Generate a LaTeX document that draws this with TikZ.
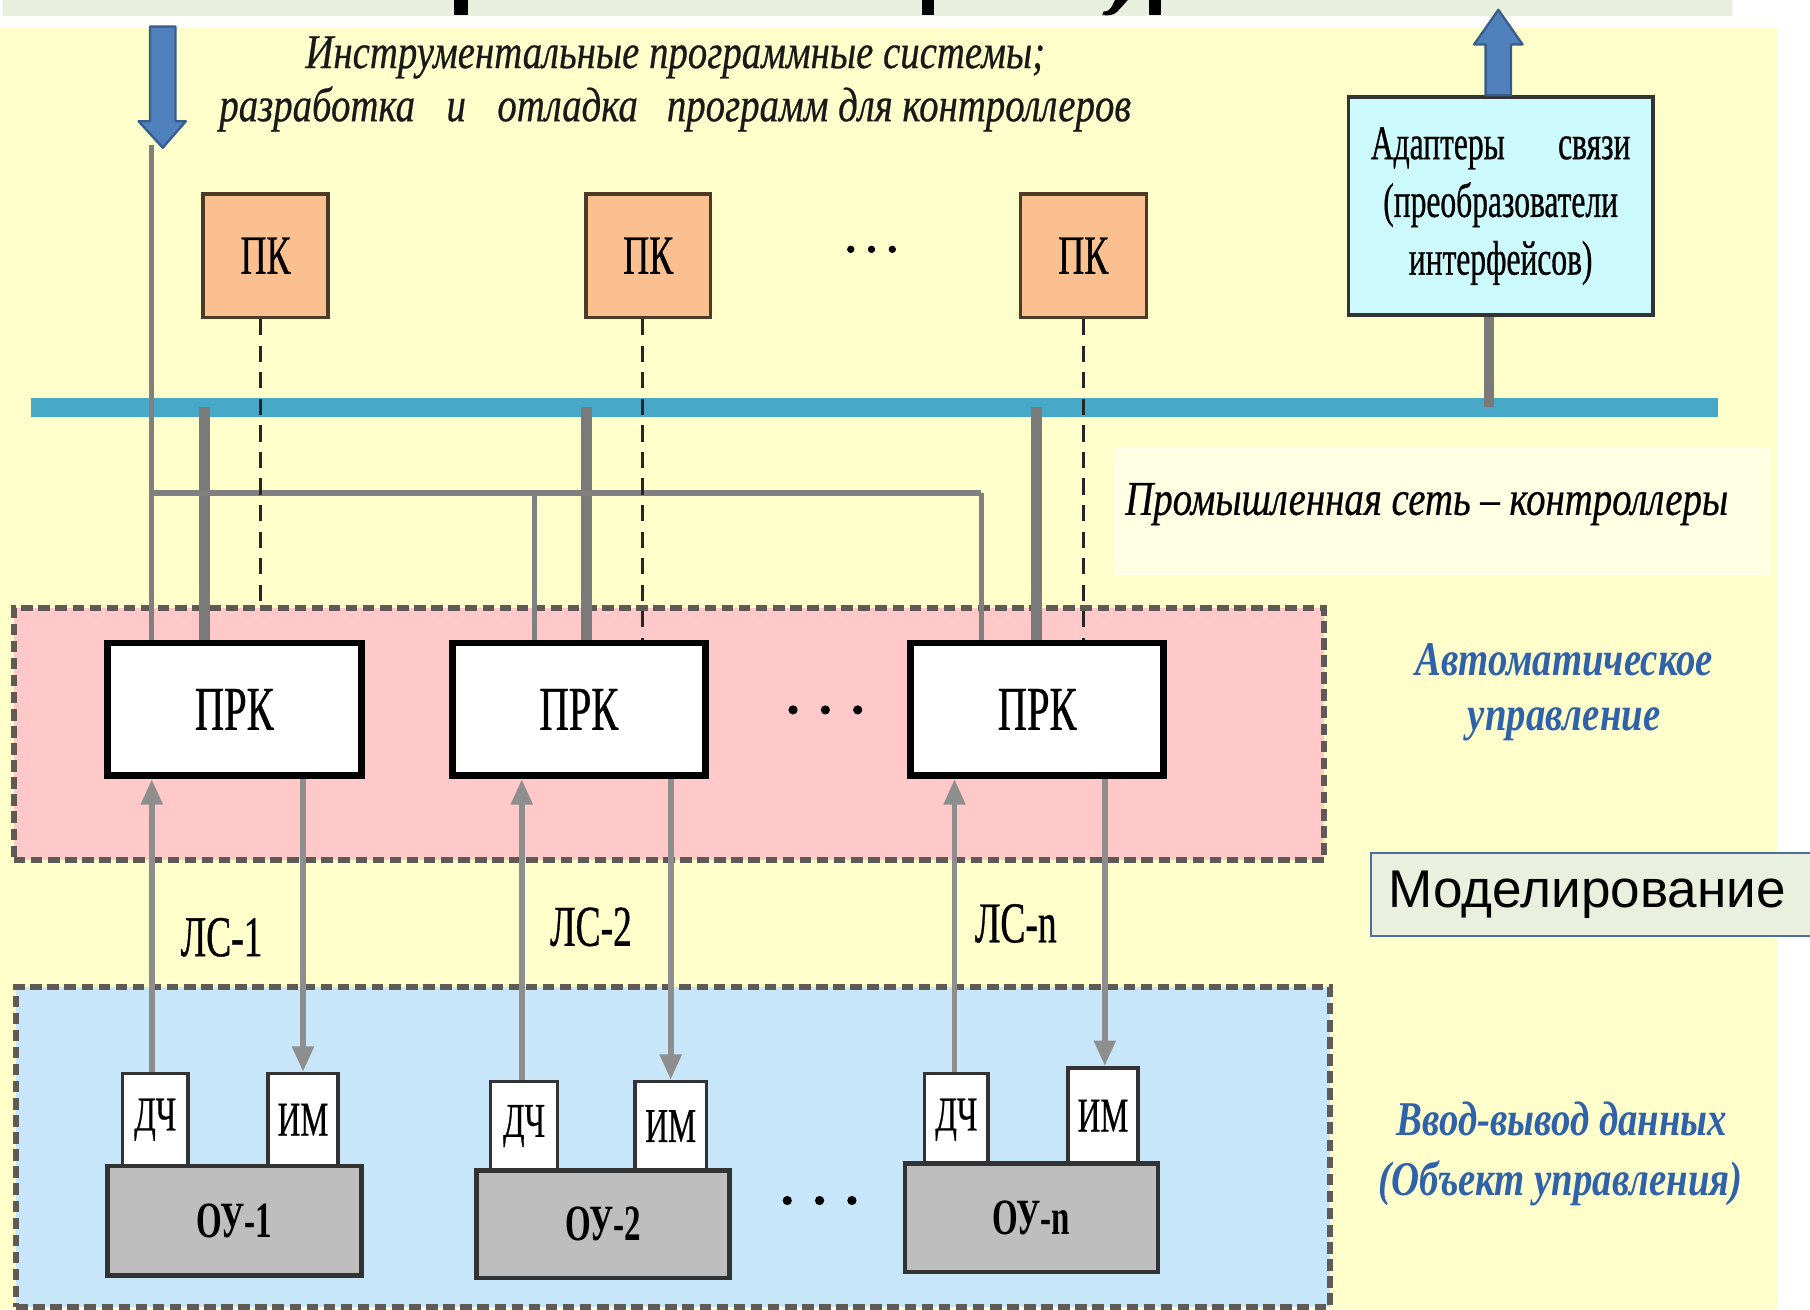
\documentclass[tikz,border=0pt]{standalone}
\usepackage{fontspec}
\setmainfont{Liberation Serif}
\newfontfamily\cf[FakeStretch=0.65,FakeBold=0.6]{Liberation Serif}
\newfontfamily\cfb[FakeStretch=0.65]{Liberation Serif}
\newfontfamily\itf[FakeStretch=0.8,FakeBold=0.5]{Liberation Serif}
\newfontfamily\bitf[FakeStretch=0.8]{Liberation Serif}
\newfontfamily\arf{Liberation Sans}
\usetikzlibrary{arrows.meta}
\definecolor{bgyellow}{HTML}{FFFFCC}
\definecolor{bandc}{HTML}{E9EFDD}
\definecolor{pinkc}{HTML}{FFC9C9}
\definecolor{bluec}{HTML}{C8E6FA}
\definecolor{regline}{HTML}{5F5A55}
\definecolor{pkfill}{HTML}{FAC08F}
\definecolor{pkline}{HTML}{4D3B2A}
\definecolor{adfill}{HTML}{CCFAFC}
\definecolor{busc}{HTML}{48A8C8}
\definecolor{dropc}{HTML}{7A7A7A}
\definecolor{netc}{HTML}{808080}
\definecolor{arrc}{HTML}{8E8E8E}
\definecolor{barrfill}{HTML}{4F81BD}
\definecolor{barrline}{HTML}{385D8A}
\definecolor{labblue}{HTML}{2F62AA}
\definecolor{oufill}{HTML}{BEBEBE}
\definecolor{modfill}{HTML}{E9F0DE}
\definecolor{modline}{HTML}{4F6EA0}
\begin{document}
\begin{tikzpicture}[x=0.5pt,y=-0.5pt,
  region/.style={draw=regline, line width=2.6pt, dash pattern=on 5pt off 2.4pt, inner sep=0pt},
  pkbox/.style={draw=pkline, fill=pkfill, line width=1.5pt, minimum width=54pt, minimum height=53.5pt, inner sep=0pt, font=\cf\fontsize{24}{26}\selectfont},
  prkbox/.style={draw=black, fill=white, line width=3pt, minimum width=110pt, minimum height=57.5pt, inner sep=0pt, font=\cf\fontsize{27}{30}\selectfont},
  smallbox/.style={draw=black!80, fill=white, line width=1.5pt, inner sep=0pt, font=\cf\fontsize{21}{24}\selectfont},
  oubox/.style={draw=black!80, fill=oufill, line width=2pt, minimum width=110pt, inner sep=0pt, font=\cfb\bfseries\fontsize{22}{24}\selectfont},
  lslab/.style={font=\cf\fontsize{25}{28}\selectfont, inner sep=0pt},
  toptext/.style={font=\itf\itshape\fontsize{21}{25}\selectfont, text=black!90, inner sep=0pt},
  bluelab/.style={font=\bitf\bfseries\itshape\fontsize{21}{24}\selectfont, text=labblue, inner sep=0pt},
  bus/.style={draw=busc, line width=8pt},
  drop/.style={draw=dropc, line width=4.5pt},
  netline/.style={draw=netc, line width=2.2pt},
  pkdash/.style={draw=black!85, line width=1.4pt, dash pattern=on 7pt off 4.5pt},
  garrow/.style={draw=arrc, line width=2.5pt, -{Triangle[length=11pt,width=9pt]}},
  blockarrow/.style={fill=barrfill, draw=barrline, line width=1pt, line join=round},
  dot/.style={fill=black, circle, inner sep=0pt, minimum size=3.2pt}
]
\useasboundingbox (0,0) rectangle (1568,1134);
\clip (0,0) rectangle (1568,1134);
% backgrounds
\fill[white] (0,0) rectangle (1568,1134);
\fill[bandc] (3,0) rectangle (1500,14);
\fill[bgyellow] (0,23) rectangle (1540,1134);
% cut-off title glyph fragments
\fill[black] (393,0) rectangle (405,13);
\fill[black] (799,0) rectangle (809,13);
\fill[black] (995,0) rectangle (1006,13);
\fill[black] (966,0) -- (977,0) -- (968,10) .. controls (965,13) and (960,14) .. (955,13) -- (956,10) .. controls (960,10) and (962,8) .. (964,4) -- cycle;

% regions
\node[region, fill=pinkc, minimum width=567.5pt, minimum height=109pt] (autoreg) at (579.5,636) {};
\node[region, fill=bluec, minimum width=569pt, minimum height=138.5pt] (ioreg) at (583,993.5) {};
% faint box around network label
\node[draw=white!60!bgyellow, fill=white!45!bgyellow, line width=1pt, minimum width=283.5pt, minimum height=54.5pt, inner sep=0pt] (netbox) at (1248.5,442.5) {};

% top texts
\node[toptext, anchor=base] (t1) at (585,59) {Инструментальные программные системы;};
\node[toptext, anchor=base] (t2) at (585,105) {разработка\hspace{0.45em} и\hspace{0.45em} отладка\hspace{0.4em} программ для контроллеров};

% nodes
\node[pkbox] (pk1) at (230,221.5) {ПК};
\node[pkbox] (pk2) at (561.5,221.5) {ПК};
\node[pkbox, minimum width=54.5pt] (pk3) at (938.5,221.5) {ПК};
\node[dot] (d1a) at (737,216) {}; \node[dot] (d1b) at (755,216) {}; \node[dot] (d1c) at (773,216) {};

\node[draw=black!80, fill=adfill, line width=1.5pt, minimum width=132pt, minimum height=94.5pt, inner sep=0pt, align=center, font=\cf\fontsize{21}{25}\selectfont] (adapter) at (1300,178.5) {Адаптеры\hspace{1.1em}связи\\(преобразователи\\интерфейсов)};

% bus
\coordinate (busL) at (27,353);
\coordinate (busR) at (1488,353);
\draw[bus] (busL) -- (busR);

\node[prkbox] (prk1) at (203,614.5) {ПРК};
\node[prkbox, minimum width=109.5pt] (prk2) at (501.5,614.5) {ПРК};
\node[prkbox, minimum width=109.5pt] (prk3) at (898.5,614.5) {ПРК};
\node[dot, minimum size=4pt] (d2a) at (687,615) {}; \node[dot, minimum size=4pt] (d2b) at (715,615) {}; \node[dot, minimum size=4pt] (d2c) at (743,615) {};

% drops from bus
\coordinate (b1) at (177,353);
\coordinate (b2) at (508,353);
\coordinate (b3) at (898,353);
\draw[drop] (b1) -- (b1 |- prk1.north);
\draw[drop] (b2) -- (b2 |- prk2.north);
\draw[drop] (b3) -- (b3 |- prk3.north);
\draw[drop] ([xshift=-5pt]adapter.south) -- ([xshift=-5pt]adapter.south |- busL);

% tool network lines
\coordinate (t0) at (131,126);
\coordinate (h1) at (131,427);
\coordinate (h2) at (463,427);
\coordinate (h3) at (850,427);
\draw[netline] (t0) -- (t0 |- prk1.north);
\draw[netline, line width=2.8pt] (h1) -- (h3);
\draw[netline] (h3) -- (h3 |- prk3.north);
\draw[netline] (h2) -- (h2 |- prk2.north);

% dashed PK lines
\draw[pkdash] ([xshift=-2pt]pk1.south) -- ([xshift=-2pt]pk1.south |- autoreg.north);
\draw[pkdash] ([xshift=-2.5pt]pk2.south) -- ([xshift=-2.5pt]pk2.south |- prk2.north);
\draw[pkdash] (pk3.south) -- (pk3.south |- prk3.north);

% redraw PRK boxes above the lines
\node[prkbox] at (prk1) {ПРК};
\node[prkbox, minimum width=109.5pt] at (prk2) {ПРК};
\node[prkbox, minimum width=109.5pt] at (prk3) {ПРК};

% block arrows
\coordinate (la) at (130,23);
\draw[blockarrow] (la) -- ++(22,0) -- ++(0,82) -- ++(9,0) -- ++(-20,23) -- ++(-21,-23) -- ++(10,0) -- cycle;
\draw[blockarrow] (adapter.north) ++(-13,0) -- ++(0,-44) -- ++(-10,0) -- ++(21,-30) -- ++(21,30) -- ++(-10,0) -- ++(0,44) -- cycle;

% labels right
\node[font=\itf\itshape\fontsize{21}{25}\selectfont, inner sep=0pt, anchor=base] (netlab) at (1236,446) {Промышленная сеть – контроллеры};
\node[bluelab, anchor=base] (auto1) at (1355,585) {Автоматическое};
\node[bluelab, anchor=base] (auto2) at (1355,633) {управление};
\node[bluelab, anchor=base] (io1) at (1353,984) {Ввод-вывод данных};
\node[bluelab, anchor=base] (io2) at (1352,1036) {(Объект управления)};

% Modelling box
\node[draw=modline, fill=modfill, line width=0.8pt, anchor=west, minimum height=36pt, text width=190pt, inner xsep=7.5pt, align=left, font=\arf\fontsize{23}{26}\selectfont] (model) at (1187,775) {Моделирование};

% I/O devices
\node[smallbox, minimum width=28.5pt, minimum height=40pt] (dch1) at (134.5,970) {ДЧ};
\node[smallbox, minimum width=30.5pt, minimum height=40pt] (im1) at (262.5,970) {ИМ};
\node[smallbox, minimum width=29pt, minimum height=38.5pt] (dch2) at (454,975.5) {ДЧ};
\node[smallbox, minimum width=31pt, minimum height=38.5pt] (im2) at (581,975.5) {ИМ};
\node[smallbox, minimum width=27.5pt, minimum height=40pt] (dchn) at (828.5,970) {ДЧ};
\node[smallbox, minimum width=30.5pt, minimum height=41.5pt] (imn) at (955.5,966.5) {ИМ};

\node[oubox, minimum height=47.5pt] (ou1) at (203,1057.5) {ОУ-1};
\node[oubox, minimum width=109.5pt, minimum height=46.5pt] (ou2) at (522.5,1060.5) {ОУ-2};
\node[oubox, minimum width=109.5pt, minimum height=47pt] (oun) at (893.5,1055) {ОУ-n};
\node[dot, minimum size=4pt] (d3a) at (682,1040) {}; \node[dot, minimum size=4pt] (d3b) at (710,1040) {}; \node[dot, minimum size=4pt] (d3c) at (738,1040) {};

% signal lines
\draw[garrow] ([xshift=-1.5pt]dch1.north) -- ([xshift=-1.5pt]dch1.north |- prk1.south);
\draw[garrow] (im1.north |- prk1.south) -- (im1.north);
\draw[garrow] ([xshift=-1pt]dch2.north) -- ([xshift=-1pt]dch2.north |- prk2.south);
\draw[garrow] (im2.north |- prk2.south) -- (im2.north);
\draw[garrow] ([xshift=-0.8pt]dchn.north) -- ([xshift=-0.8pt]dchn.north |- prk3.south);
\draw[garrow] ([xshift=0.8pt]imn.north |- prk3.south) -- ([xshift=0.8pt]imn.north);

\node[lslab] (ls1) at (192,812) {ЛС-1};
\node[lslab] (ls2) at (512,803) {ЛС-2};
\node[lslab] (lsn) at (880,800) {ЛС-n};
\end{tikzpicture}
\end{document}
